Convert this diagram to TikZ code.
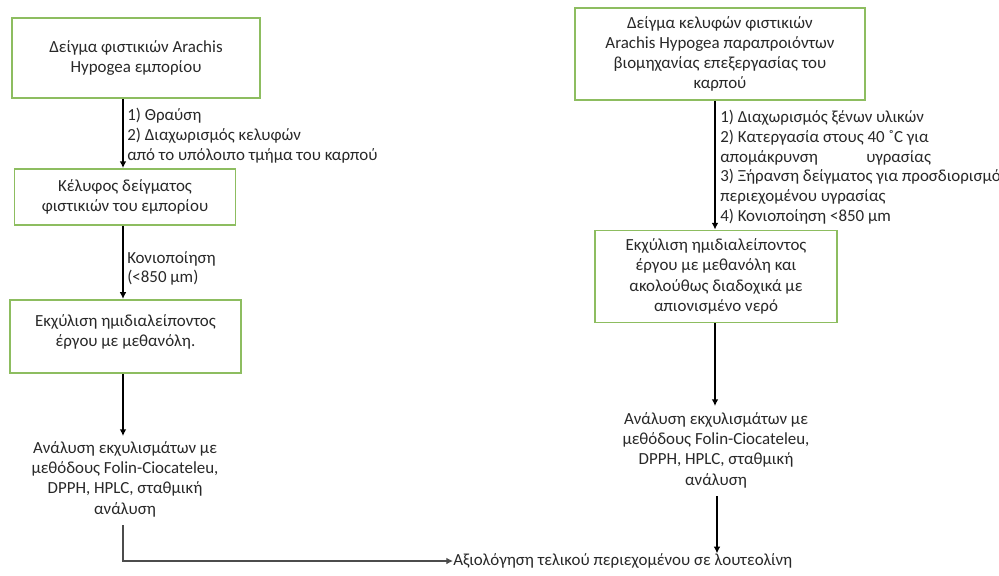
\documentclass[tikz,border=0pt]{standalone}
\usepackage{fontspec}
\setmainfont{Carlito}
\usetikzlibrary{arrows.meta,calc}

\definecolor{boxgreen}{RGB}{141,189,96}
\definecolor{txtgrey}{RGB}{40,40,40}

\begin{document}
\begin{tikzpicture}[x=0.75pt, y=-0.75pt,
    every node/.style={font=\fontsize{12.7}{15.2}\selectfont, text=txtgrey},
    stepbox/.style={draw=boxgreen, line width=1.4pt, fill=white, align=center, inner sep=0pt},
    plain/.style={align=center, inner sep=0pt},
    note/.style={align=left, anchor=north west, inner sep=0pt, font=\fontsize{12.7}{14.8}\selectfont},
    flow/.style={-{Latex[length=5pt,width=5pt]}, line width=1pt, black}]
    \useasboundingbox (0,0) rectangle (999,575);

    % Define coordinates
    \coordinate (lx) at (123,0);
    \coordinate (rx) at (715,0);
    \coordinate (ry) at (717,0);

    % Left column
    \node[stepbox, minimum width=186pt, minimum height=60pt] (L1) at (136,58)
        {Δείγμα φιστικιών Arachis\\Hypogea εμπορίου};
    \node[stepbox, minimum width=165.75pt, minimum height=42pt] (L2) at (125,197)
        {Κέλυφος δείγματος\\φιστικιών του εμπορίου};
    \node[stepbox, minimum width=173pt, minimum height=55pt, text depth=9pt] (L3) at (125.5,336.5)
        {Εκχύλιση ημιδιαλείποντος\\έργου με μεθανόλη.};
    \node[plain] (L4) at (125,479)
        {Ανάλυση εκχυλισμάτων με\\μεθόδους Folin-Ciocateleu,\\DPPH, HPLC, σταθμική\\ανάλυση};

    % Right column
    \node[stepbox, minimum width=217.5pt, minimum height=69pt] (R1) at (720,54)
        {Δείγμα κελυφών φιστικιών\\Arachis Hypogea παραπροιόντων\\βιομηχανίας επεξεργασίας του\\καρπού};
    \node[stepbox, minimum width=181.5pt, minimum height=69pt] (R2) at (716,276.5)
        {Εκχύλιση ημιδιαλείποντος\\έργου με μεθανόλη και\\ακολούθως διαδοχικά με\\απιονισμένο νερό};
    \node[plain] (R3) at (716,450)
        {Ανάλυση εκχυλισμάτων με\\μεθόδους Folin-Ciocateleu,\\DPPH, HPLC, σταθμική\\ανάλυση};

    % Final step
    \node[plain, anchor=west] (F) at (453,561)
        {Αξιολόγηση τελικού περιεχομένου σε λουτεολίνη};

    % Arrows left
    \draw[flow] (lx |- L1.south) -- (lx |- L2.north);
    \draw[flow] (lx |- L2.south) -- (lx |- L3.north);
    \draw[flow] (lx |- L3.south) -- ($(lx |- L4.north)+(0,-5)$);
    \draw[flow, black!70, line width=0.8pt] ($(lx |- L4.south)+(0,8)$) |- (F.west);

    % Arrows right
    \draw[flow] (rx |- R1.south) -- (rx |- R2.north);
    \draw[flow] (rx |- R2.south) -- ($(rx |- R3.north)+(0,-6)$);
    \draw[flow] ($(ry |- R3.south)+(0,8)$) -- (ry |- F.north);

    % Labels on the arrows
    \node[note] (n1) at (127,108) {1) Θραύση\\2) Διαχωρισμός κελυφών\\από το υπόλοιπο τμήμα του καρπού};
    \node[note] (n2) at (127,251) {Κονιοποίηση\\(<850 μm)};
    \node[note] (n3) at (720,110) {1) Διαχωρισμός ξένων υλικών\\2) Κατεργασία στους 40 ˚C για\\απομάκρυνση \hspace{2.4em} υγρασίας\\3) Ξήρανση δείγματος για προσδιορισμό\\περιεχομένου υγρασίας\\4) Κονιοποίηση <850 μm};
\end{tikzpicture}
\end{document}
